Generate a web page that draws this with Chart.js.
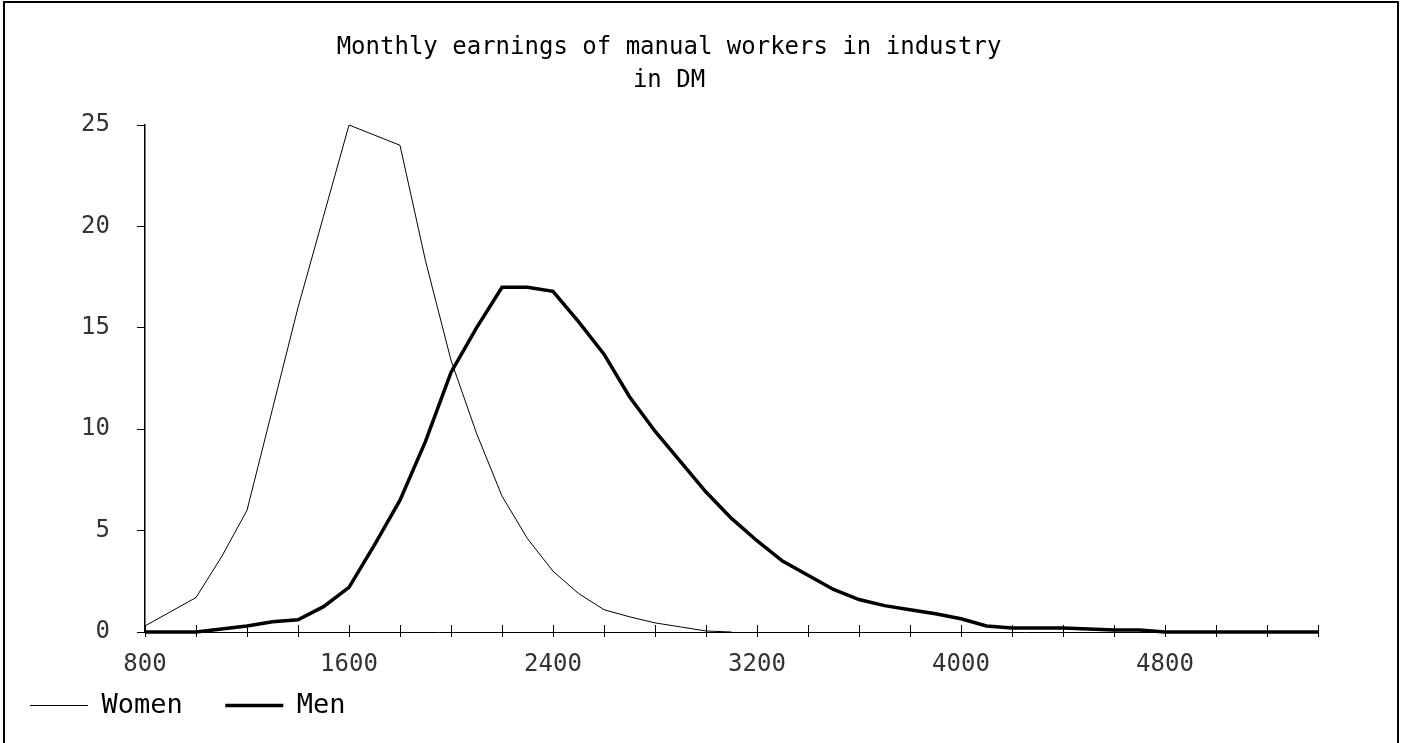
<!DOCTYPE html>
<html>
<head>
<meta charset="utf-8">
<script src="https://cdn.jsdelivr.net/npm/chart.js@4"></script>
<style>
html,body{margin:0;padding:0;background:#fff;}
#wrap{position:relative;width:1406px;height:743px;overflow:hidden;background:#fff;}
#frame{position:absolute;left:3px;top:1px;width:1396px;height:800px;border:2px solid #000;box-sizing:border-box;pointer-events:none;}
canvas{display:block;}
</style>
</head>
<body>
<div id="wrap"><canvas id="c" width="1406" height="743"></canvas><div id="frame"></div></div>
<script>
// ---- data ----
const earningsDM = [800,900,1000,1100,1200,1300,1400,1500,1600,1700,1800,1900,2000,2100,2200,2300,2400,2500,2600,2700,2800,2900,3000,3100,3200,3300,3400,3500,3600,3700,3800,3900,4000,4100,4200,4300,4400,4500,4600,4700,4800,4900,5000,5100,5200,5300,5400];
const womenPct = [0.3,1.0,1.7,3.7,6.0,11.0,16.0,20.5,25.0,24.5,24.0,18.3,13.4,9.8,6.7,4.6,3.0,1.9,1.1,0.75,0.45,0.25,0.05,0,
  null,null,null,null,null,null,null,null,null,null,null,null,null,null,null,null,null,null,null,null,null,null,null];
const menPct = [0,0,0,0.15,0.3,0.5,0.6,1.25,2.2,4.3,6.5,9.4,12.8,15.0,17.0,17.0,16.8,15.3,13.7,11.6,9.9,8.4,6.9,5.6,4.5,3.5,2.8,2.1,1.6,1.3,1.1,0.9,0.65,0.3,0.2,0.2,0.2,0.15,0.1,0.1,0,0,0,0,0,0,0];
const seriesNames = ['Women', 'Men'];
const xTickLabels = ['800','1600','2400','3200','4000','4800'];
const yTickLabels = ['0','5','10','15','20','25'];
const titleLines = ['Monthly earnings of manual workers in industry', 'in DM'];

const pts = arr => earningsDM.map((x, i) => ({x: x, y: arr[i]}));
const mono = 'DejaVu Sans Mono';

new Chart(document.getElementById('c'), {
  type: 'line',
  data: {
    datasets: [
      {label: seriesNames[0] + '  ', data: pts(womenPct), borderColor: '#000', borderWidth: 1,
       pointRadius: 0, tension: 0, spanGaps: false, clip: 6, fill: false},
      {label: seriesNames[1], data: pts(menPct), borderColor: '#000', borderWidth: 3.5,
       pointRadius: 0, tension: 0, clip: 6, fill: false}
    ]
  },
  options: {
    responsive: false,
    animation: false,
    events: [],
    layout: {padding: {left: 20, right: 88, top: 0, bottom: 14}},
    plugins: {
      title: {
        display: true, text: titleLines, color: '#000',
        font: {family: mono, size: 24, weight: 'normal', lineHeight: 1.35},
        padding: {top: 32, bottom: 28.2}
      },
      legend: {
        display: true, position: 'bottom', align: 'start',
        labels: {
          usePointStyle: true, pointStyle: 'line', pointStyleWidth: 58, padding: 10,
          color: '#000', font: {family: mono, size: 27, weight: 'normal'},
          generateLabels: chart => chart.data.datasets.map((ds, i) => ({
            text: ds.label, strokeStyle: '#000', fillStyle: '#000', fontColor: '#000',
            lineWidth: ds.borderWidth, pointStyle: 'line', hidden: false, datasetIndex: i, lineCap: 'butt'
          }))
        }
      },
      tooltip: {enabled: false}
    },
    scales: {
      x: {
        type: 'linear', min: 800, max: 5400,
        ticks: {
          stepSize: 200, autoSkip: false, maxRotation: 0, minRotation: 0, padding: 13,
          color: '#333', font: {family: mono, size: 24},
          callback: v => (xTickLabels.indexOf(String(v)) >= 0 ? String(v) : '')
        },
        grid: {
          display: true, drawOnChartArea: true, color: '#000', lineWidth: 1,
          drawTicks: true, tickLength: 5, tickColor: '#000', tickWidth: 1
        },
        border: {display: true, color: '#000', width: 1, dash: [0, 500, 7, 3000], dashOffset: 0},
        afterFit: s => { s.height = 50; }
      },
      y: {
        type: 'linear', min: 0, max: 25,
        ticks: {
          stepSize: 5, padding: 27, color: '#333', font: {family: mono, size: 24},
          callback: v => (yTickLabels.indexOf(String(v)) >= 0 ? String(v) : '')
        },
        grid: {display: true, drawOnChartArea: false, drawTicks: true, tickLength: 8, tickColor: '#000', tickWidth: 1},
        border: {display: true, color: '#000', width: 1.5},
        afterFit: s => { s.width = 125; }
      }
    }
  }
});
</script>
</body>
</html>
